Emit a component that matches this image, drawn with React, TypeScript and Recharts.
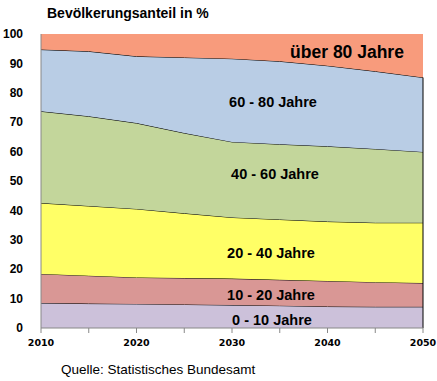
import React from 'react';
import { AreaChart, Area, XAxis, YAxis, ReferenceLine } from 'recharts';

// Bevölkerungsanteil nach Altersgruppen (in %)
const years = [2010, 2015, 2020, 2025, 2030, 2035, 2040, 2045, 2050];
const age0to10 = [8.5, 8.3, 8.2, 8.0, 7.8, 7.6, 7.3, 7.2, 7.2];
const age10to20 = [9.9, 9.5, 9.0, 9.0, 9.0, 8.8, 8.7, 8.4, 8.1];
const age20to40 = [24.1, 23.7, 23.3, 22.0, 20.8, 20.5, 20.2, 20.2, 20.5];
const age40to60 = [31.2, 30.5, 29.2, 27.3, 25.7, 25.6, 25.6, 25.1, 24.1];
const age60to80 = [21.0, 22.1, 22.7, 25.7, 28.3, 28.2, 27.4, 26.4, 25.3];
const age80plus = [5.3, 5.9, 7.6, 8.0, 8.4, 9.3, 10.8, 12.7, 14.8];

const yTicks = [0, 10, 20, 30, 40, 50, 60, 70, 80, 90, 100];
const xTicks = [2010, 2015, 2020, 2025, 2030, 2035, 2040, 2045, 2050];

const data = years.map((year, i) => ({
  year,
  a0: age0to10[i],
  a1: age10to20[i],
  a2: age20to40[i],
  a3: age40to60[i],
  a4: age60to80[i],
  a5: age80plus[i],
}));

const last = years.length - 1;
const edgeTop =
  age0to10[last] + age10to20[last] + age20to40[last] + age40to60[last] + age60to80[last];

const labelStyle = {
  fontFamily: 'Arial, "Liberation Sans", sans-serif',
  fontWeight: 'bold' as const,
  fill: '#000',
};

export default function App() {
  return (
    <div style={{ position: 'absolute', left: 0, top: 0, width: 437, height: 381, background: '#fff' }}>
      <AreaChart
        width={437}
        height={381}
        data={data}
        margin={{ top: 34, right: 14, left: 0, bottom: 0 }}
      >
        <XAxis
          dataKey="year"
          type="number"
          domain={[2010, 2050]}
          ticks={xTicks}
          tickFormatter={(v: number) => (v % 10 === 0 ? String(v) : '')}
          height={53}
          tickSize={5}
          tickMargin={6}
          stroke="#888"
          tick={{ fill: '#000', fontSize: 9.5, fontWeight: 'bold', fontFamily: '"DejaVu Sans", sans-serif' }}
        />
        <YAxis
          type="number"
          domain={[0, 100]}
          ticks={yTicks}
          width={41}
          tickLine={false}
          tickMargin={12}
          stroke="#888"
          tick={{ fill: '#000', fontSize: 12, fontWeight: 'bold', fontFamily: 'Arial, "Liberation Sans", sans-serif' }}
        />
        <Area type="linear" dataKey="a0" stackId="1" fill="#CCC1DA" fillOpacity={1} stroke="#000" strokeWidth={1} isAnimationActive={false} />
        <Area type="linear" dataKey="a1" stackId="1" fill="#D99795" fillOpacity={1} stroke="#000" strokeWidth={1} isAnimationActive={false} />
        <Area type="linear" dataKey="a2" stackId="1" fill="#FFFF66" fillOpacity={1} stroke="#000" strokeWidth={1} isAnimationActive={false} />
        <Area type="linear" dataKey="a3" stackId="1" fill="#C3D69B" fillOpacity={1} stroke="#000" strokeWidth={1} isAnimationActive={false} />
        <Area type="linear" dataKey="a4" stackId="1" fill="#B9CDE5" fillOpacity={1} stroke="#000" strokeWidth={1} isAnimationActive={false} />
        <Area type="linear" dataKey="a5" stackId="1" fill="#F89B7C" fillOpacity={1} stroke="none" isAnimationActive={false} />
        <ReferenceLine
          segment={[{ x: 2050, y: 0 }, { x: 2050, y: edgeTop }]}
          stroke="#000"
          strokeWidth={1}
        />
      </AreaChart>

      <svg width={437} height={381} style={{ position: 'absolute', left: 0, top: 0, pointerEvents: 'none' }}>
        <text x={47} y={18} fontSize={14} {...labelStyle}>Bevölkerungsanteil in %</text>
        <text x={347} y={58} fontSize={17.5} textAnchor="middle" {...labelStyle}>über 80 Jahre</text>
        <text x={273} y={107} fontSize={14.5} textAnchor="middle" {...labelStyle}>60 - 80 Jahre</text>
        <text x={275} y={179} fontSize={14.5} textAnchor="middle" {...labelStyle}>40 - 60 Jahre</text>
        <text x={271} y={258} fontSize={14.5} textAnchor="middle" {...labelStyle}>20 - 40 Jahre</text>
        <text x={271} y={300} fontSize={14.5} textAnchor="middle" {...labelStyle}>10 - 20 Jahre</text>
        <text x={272} y={325} fontSize={14.5} textAnchor="middle" {...labelStyle}>0 - 10 Jahre</text>
        <text x={61} y={374} fontSize={13.5} fontFamily='Arial, "Liberation Sans", sans-serif' fill="#000">
          Quelle: Statistisches Bundesamt
        </text>
      </svg>
    </div>
  );
}
